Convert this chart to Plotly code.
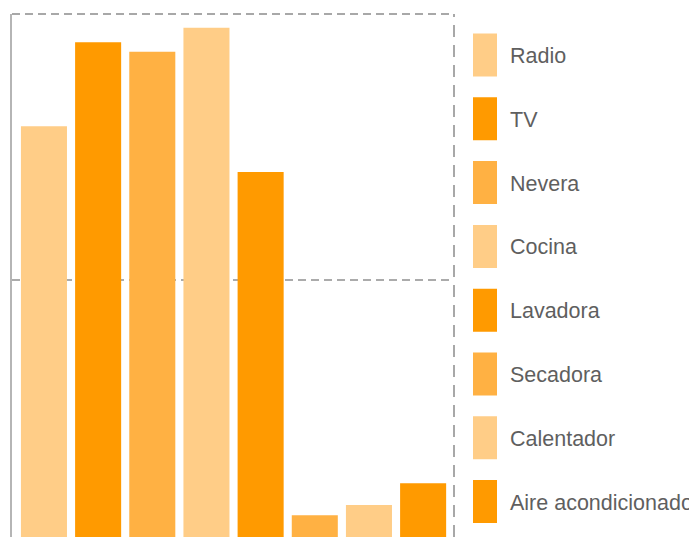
import plotly.graph_objects as go

categories = ["Radio", "TV", "Nevera", "Cocina", "Lavadora", "Secadora",
              "Calentador", "Aire acondicionado"]
values = [78.9, 94.7, 92.9, 97.4, 70.3, 5.8, 7.7, 11.8]
palette = ["#FFCD87", "#FF9A00", "#FFB143"]
colors = [palette[i % 3] for i in range(len(categories))]

OFF = 8  # default page body margin
W, H = 697 - OFF, 537 - OFF
L, T, B = 12 - OFF, 14 - OFF, 0
R = W - (454 - OFF)
pw, ph = W - L - R, H - T - B

fig = go.Figure()
for i, (c, v) in enumerate(zip(categories, values)):
    fig.add_trace(go.Bar(x=[i], y=[v], name=c, width=0.85,
                         marker=dict(color=colors[i], line=dict(width=0)),
                         showlegend=False, hoverinfo="name+y"))


def px2x(p):  # page pixel -> paper x
    return (p - OFF - L) / pw


def py2y(p):  # page pixel -> paper y
    return (H - B - (p - OFF)) / ph


shapes = []
annotations = []
for i, c in enumerate(categories):
    cy = 55 + 63.8 * i
    shapes.append(dict(type="rect", xref="paper", yref="paper",
                       x0=px2x(473), x1=px2x(497),
                       y0=py2y(cy + 21.5), y1=py2y(cy - 21.5),
                       fillcolor=colors[i], line=dict(width=0)))
    annotations.append(dict(xref="paper", yref="paper", x=px2x(508), y=py2y(cy + 1),
                            text=c, showarrow=False, xanchor="left", yanchor="middle",
                            font=dict(size=21.5, color="#5f5f5f",
                                      family="Liberation Sans, Arial, sans-serif")))

# dashed top and right border
shapes.append(dict(type="line", xref="paper", yref="paper", x0=0, x1=1, y0=1, y1=1,
                   line=dict(color="#a8a8a8", width=2, dash="8px,5px")))
shapes.append(dict(type="line", xref="paper", yref="paper", x0=1, x1=1, y0=0, y1=1,
                   line=dict(color="#a8a8a8", width=2, dash="12px,8px")))

fig.update_layout(
    width=W, height=H,
    margin=dict(l=L, r=R, t=T, b=B, pad=0),
    paper_bgcolor="white", plot_bgcolor="white",
    bargap=0.15,
    shapes=shapes, annotations=annotations,
    xaxis=dict(range=[-0.59, 7.57], showgrid=False, zeroline=False,
               showticklabels=False, showline=False, ticks=""),
    yaxis=dict(range=[(546 - 537) / 5.32, 100], tickvals=[0, 50, 100],
               showticklabels=False, showgrid=True, gridcolor="#ababab",
               gridwidth=2, griddash="8px,5px", zeroline=False,
               showline=True, linecolor="#b5b5b5", linewidth=2, ticks=""),
)

fig.write_html("out.html")
